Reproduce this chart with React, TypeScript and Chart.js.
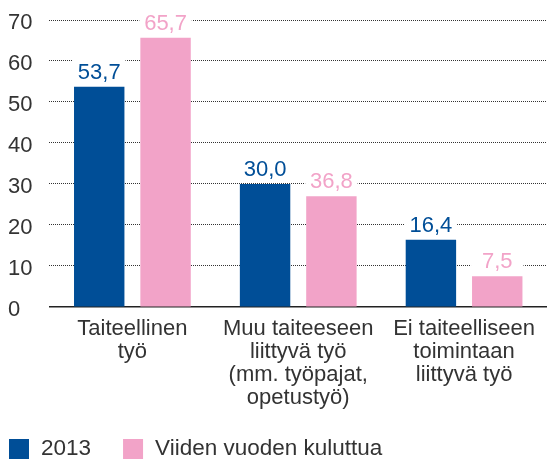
import React, { useEffect, useRef } from "react";
import { Chart, registerables } from "chart.js";

Chart.register(...registerables);

const categories: string[][] = [
  ["Taiteellinen", "työ"],
  ["Muu taiteeseen", "liittyvä työ", "(mm. työpajat,", "opetustyö)"],
  ["Ei taiteelliseen", "toimintaan", "liittyvä työ"],
];
const seriesNames = ["2013", "Viiden vuoden kuluttua"];
// bar heights as drawn in the reference
const values2013 = [53.7, 30.0, 16.4];
const valuesFive = [65.7, 27.0, 7.5];
// value labels as printed in the reference
const labels2013 = ["53,7", "30,0", "16,4"];
const labelsFive = ["65,7", "36,8", "7,5"];
const yTicks = [0, 10, 20, 30, 40, 50, 60, 70];

const BLUE = "#004e97";
const PINK = "#f2a3c8";
const TEXT = "#333333";
const FONT = '"Liberation Sans", Arial, sans-serif';

const valueLabelPlugin = {
  id: "valueLabels",
  afterDatasetsDraw(chart: any) {
    const ctx = chart.ctx;
    const texts = [labels2013, labelsFive];
    ctx.save();
    ctx.font = `22px ${FONT}`;
    ctx.textAlign = "center";
    ctx.textBaseline = "alphabetic";
    chart.data.datasets.forEach((ds: any, di: number) => {
      const meta = chart.getDatasetMeta(di);
      meta.data.forEach((bar: any, i: number) => {
        const base = bar.y - 8;
        ctx.fillStyle = "#ffffff";
        ctx.fillRect(bar.x - bar.width / 2 - 1, base - 21, bar.width + 2, 25);
        ctx.fillStyle = ds.backgroundColor;
        ctx.fillText(texts[di][i], bar.x, base);
      });
    });
    ctx.restore();
  },
};

const legendPlugin = {
  id: "bottomLegend",
  afterDraw(chart: any) {
    const ctx = chart.ctx;
    ctx.save();
    ctx.font = `22.5px ${FONT}`;
    ctx.textBaseline = "alphabetic";
    ctx.textAlign = "left";
    let x = 9;
    const boxTop = 439;
    const box = 20;
    chart.data.datasets.forEach((ds: any) => {
      ctx.fillStyle = ds.backgroundColor;
      ctx.fillRect(x, boxTop, box, box);
      ctx.fillStyle = TEXT;
      ctx.fillText(ds.label, x + box + 12, boxTop + 16);
      x += box + 12 + ctx.measureText(ds.label).width + 32;
    });
    ctx.restore();
  },
};

const fitX = (axis: any) => {
  axis.paddingLeft = 0;
  axis.paddingRight = 0;
  axis.paddingTop = 0;
  axis.paddingBottom = 0;
  axis.height -= axis.options.ticks.padding;
};
const fitY = (axis: any) => {
  axis.paddingLeft = 0;
  axis.paddingRight = 0;
  axis.paddingTop = 0;
  axis.paddingBottom = 0;
  axis.width -= axis.options.ticks.padding;
};

export default function App() {
  const ref = useRef<HTMLCanvasElement | null>(null);
  useEffect(() => {
    document.body.style.margin = "0";
    const canvas = ref.current;
    if (!canvas) return;
    const chart = new Chart(canvas, {
      type: "bar",
      data: {
        labels: categories,
        datasets: [
          {
            label: seriesNames[0],
            data: values2013,
            backgroundColor: BLUE,
            categoryPercentage: 0.8,
            barPercentage: 0.76,
          },
          {
            label: seriesNames[1],
            data: valuesFive,
            backgroundColor: PINK,
            categoryPercentage: 0.8,
            barPercentage: 0.76,
          },
        ],
      },
      options: {
        animation: false,
        responsive: false,
        maintainAspectRatio: false,
        layout: { padding: { top: 20, left: 8, right: 0, bottom: 49.5 } },
        plugins: {
          legend: { display: false },
          tooltip: { enabled: false },
        },
        scales: {
          x: {
            type: "category",
            afterFit: fitX,
            grid: { display: false, drawTicks: false },
            border: { display: true, color: "#222222", width: 1.5 },
            ticks: {
              autoSkip: false,
              maxRotation: 0,
              padding: 11,
              color: TEXT,
              font: { family: FONT, size: 22, lineHeight: 1.04 },
            },
          },
          y: {
            type: "linear",
            min: 0,
            max: 70,
            afterFit: fitY,
            afterBuildTicks: (axis: any) => {
              axis.ticks = yTicks.map((v) => ({ value: v }));
            },
            grid: {
              drawTicks: false,
              color: (c: any) => (c.tick && c.tick.value === 0 ? "rgba(0,0,0,0)" : "#333333"),
              lineWidth: 1,
            },
            border: { display: false, dash: [1, 1] },
            ticks: {
              padding: 17,
              crossAlign: "far",
              labelOffset: 2.5,
              color: TEXT,
              font: { family: FONT, size: 22 },
              callback: (v: any) => String(v),
            },
          },
        },
      },
      plugins: [valueLabelPlugin, legendPlugin],
    });
    return () => chart.destroy();
  }, []);
  return (
    <div style={{ width: 547, height: 459, position: "relative" }}>
      <canvas ref={ref} width={547} height={459} style={{ display: "block" }} />
    </div>
  );
}
